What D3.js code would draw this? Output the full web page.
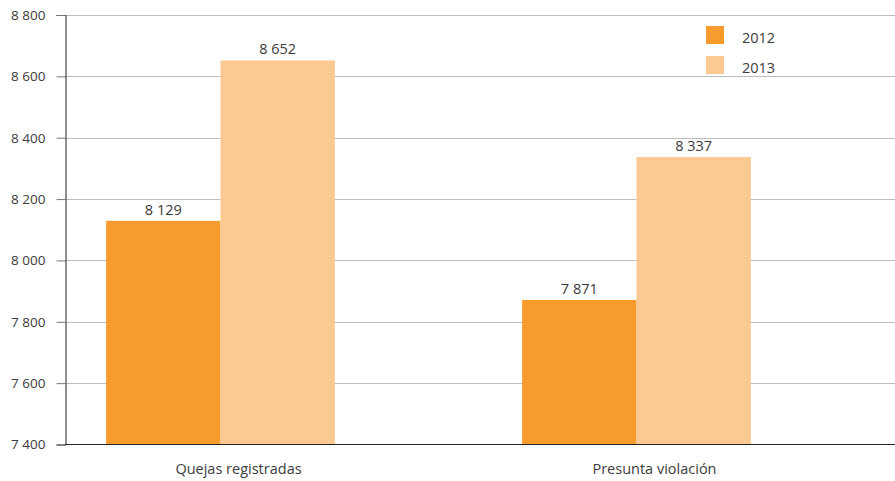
<!DOCTYPE html>
<html>
<head>
<meta charset="utf-8">
<script src="https://cdn.jsdelivr.net/npm/d3@7"></script>
<style>
  body { margin: 0; background: #fff; }
  svg text { font-family: "Open Sans", sans-serif; fill: #3c3c3c; }
</style>
</head>
<body>
<div id="chart"></div>
<script>
// Data
const categories = ["Quejas registradas", "Presunta violación"]
const years = ["2012", "2013"]
const values2012 = [8129, 7871]
const values2013 = [8652, 8337]
const yTicks = [7400, 7600, 7800, 8000, 8200, 8400, 8600, 8800]
const colors = ["#f89b2f", "#fbc991"]

const width = 895
const height = 481
const axisX = 65

const series = [values2012, values2013]

const fmt = d3.formatLocale({ decimal: ",", thousands: " ", grouping: [3], currency: ["", ""] }).format(",")

const svg = d3.select("#chart").append("svg")
    .attr("width", width)
    .attr("height", height)

// Scales
const y = d3.scaleLinear().domain([7400, 8800]).range([444.5, 15])
const x0 = d3.scaleBand().domain(categories).range([12.5, 844.5])
    .paddingInner(0.45).paddingOuter(0.225)
const x1 = d3.scaleBand().domain(years).range([0, x0.bandwidth()])

// Grid
svg.append("g")
    .selectAll("line")
    .data(yTicks.slice(1))
    .join("line")
    .attr("x1", axisX).attr("x2", width)
    .attr("y1", d => Math.round(y(d)) + 0.5).attr("y2", d => Math.round(y(d)) + 0.5)
    .attr("stroke", "#bdbdbd")

// Y axis
const yAxis = svg.append("g")
    .attr("transform", `translate(${axisX + 0.5},0)`)
    .call(d3.axisLeft(y).tickValues(yTicks).tickSize(9).tickPadding(11).tickFormat(fmt))
yAxis.select(".domain").attr("stroke", "#222")
yAxis.selectAll(".tick line").attr("stroke", "#777")
yAxis.selectAll(".tick text").attr("font-size", 13.5).attr("font-family", "Open Sans").attr("fill", "#3c3c3c")

// Bars
const groups = svg.append("g")
    .selectAll("g")
    .data(categories)
    .join("g")
    .attr("transform", d => `translate(${x0(d)},0)`)

groups.selectAll("rect")
    .data((d, i) => years.map((yr, j) => ({ yr, v: series[j][i] })))
    .join("rect")
    .attr("x", d => x1(d.yr))
    .attr("width", x1.bandwidth())
    .attr("y", d => y(d.v))
    .attr("height", d => y(7400) - y(d.v))
    .attr("fill", (d, j) => colors[j])

groups.selectAll("text.val")
    .data((d, i) => years.map((yr, j) => ({ yr, v: series[j][i] })))
    .join("text")
    .attr("class", "val")
    .attr("x", d => x1(d.yr) + x1.bandwidth() / 2)
    .attr("y", d => y(d.v) - 6)
    .attr("text-anchor", "middle")
    .attr("font-size", 14.5)
    .text(d => fmt(d.v))

// Baseline
svg.append("line")
    .attr("x1", axisX).attr("x2", width)
    .attr("y1", 444.5).attr("y2", 444.5)
    .attr("stroke", "#222")

// Category labels
svg.append("g")
    .selectAll("text")
    .data(categories)
    .join("text")
    .attr("x", d => x0(d) + x0.bandwidth() / 2 + 18)
    .attr("y", 474)
    .attr("text-anchor", "middle")
    .attr("font-size", 14.5)
    .text(d => d)

// Legend
const legend = svg.append("g")
    .selectAll("g")
    .data(years)
    .join("g")
    .attr("transform", (d, i) => `translate(706,${26 + i * 30})`)
legend.append("rect")
    .attr("width", 18).attr("height", 18)
    .attr("fill", (d, i) => colors[i])
legend.append("text")
    .attr("x", 36).attr("y", 17)
    .attr("font-size", 14.5)
    .text(d => d)
</script>
</body>
</html>
